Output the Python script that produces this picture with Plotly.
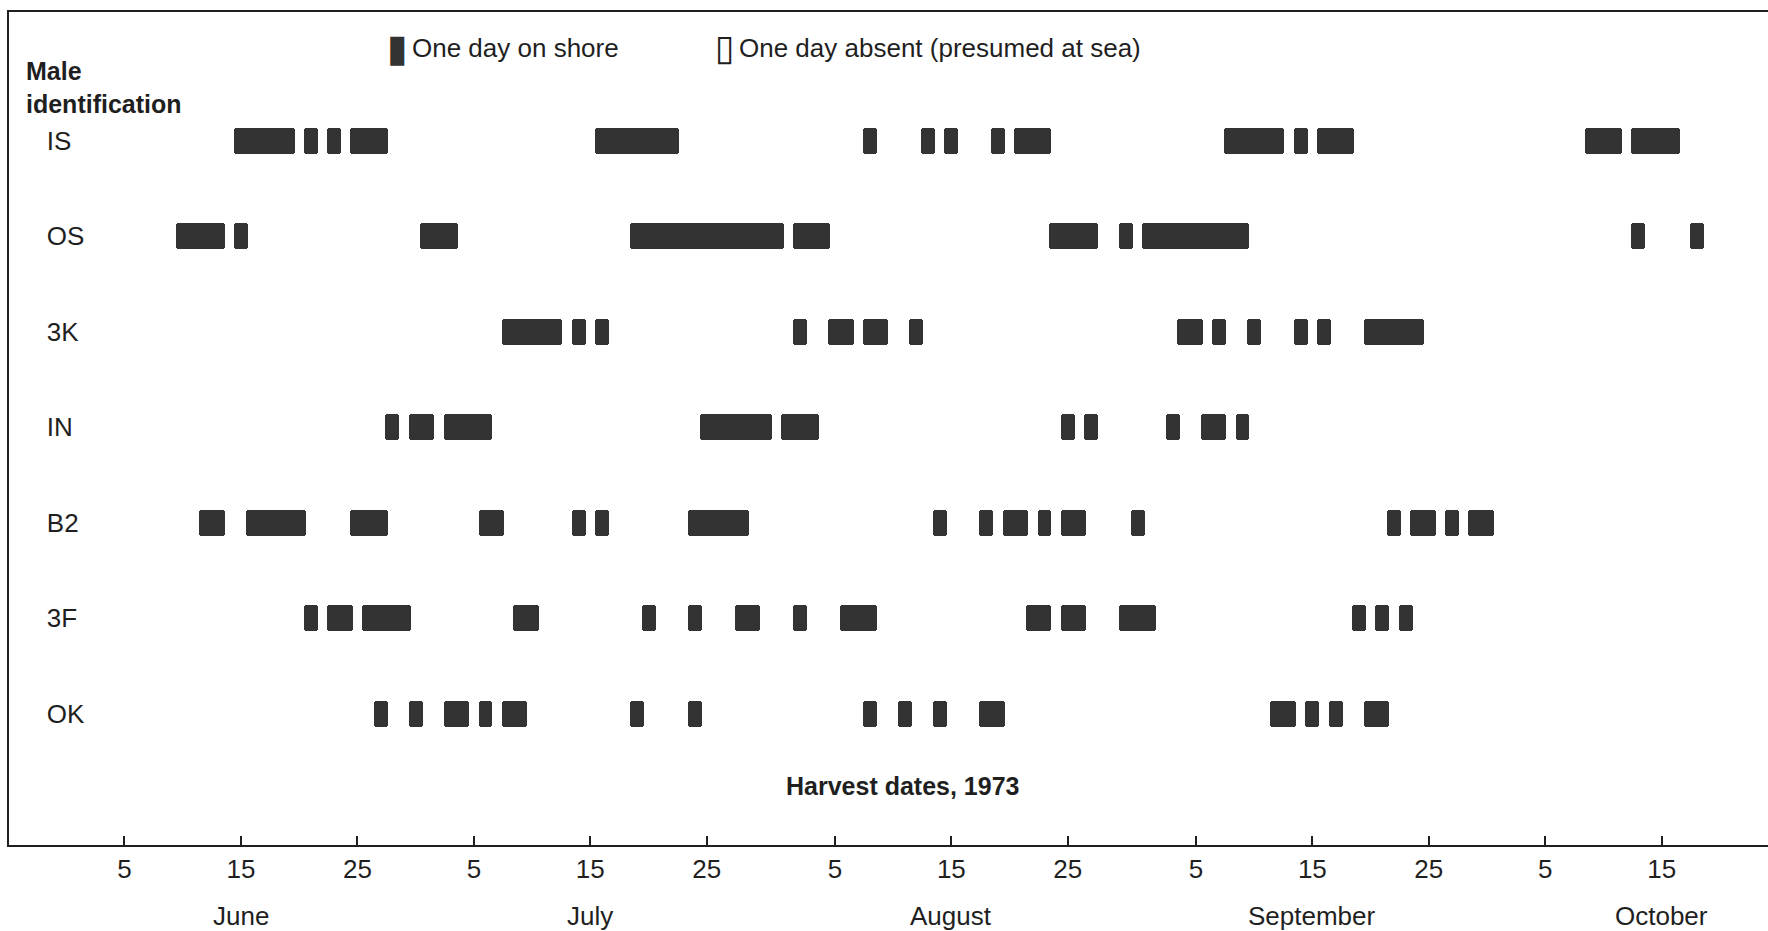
import pandas as pd
import plotly.graph_objects as go

# ---------------- data ----------------
males = ["IS", "OS", "3K", "IN", "B2", "3F", "OK"]

# stays on shore: (first day, last day) of each run of consecutive days, 1973
IS_stays = [("06-15", "06-19"), ("06-21", "06-21"), ("06-23", "06-23"), ("06-25", "06-27"),
            ("07-16", "07-22"), ("08-08", "08-08"), ("08-13", "08-13"), ("08-15", "08-15"),
            ("08-19", "08-19"), ("08-21", "08-23"), ("09-08", "09-12"), ("09-14", "09-14"),
            ("09-16", "09-18"), ("10-09", "10-11"), ("10-13", "10-16")]
OS_stays = [("06-10", "06-13"), ("06-15", "06-15"), ("07-01", "07-03"), ("07-19", "07-31"),
            ("08-02", "08-04"), ("08-24", "08-27"), ("08-30", "08-30"), ("09-01", "09-09"),
            ("10-13", "10-13"), ("10-18", "10-18")]
K3_stays = [("07-08", "07-12"), ("07-14", "07-14"), ("07-16", "07-16"), ("08-02", "08-02"),
            ("08-05", "08-06"), ("08-08", "08-09"), ("08-12", "08-12"), ("09-04", "09-05"),
            ("09-07", "09-07"), ("09-10", "09-10"), ("09-14", "09-14"), ("09-16", "09-16"),
            ("09-20", "09-24")]
IN_stays = [("06-28", "06-28"), ("06-30", "07-01"), ("07-03", "07-06"), ("07-25", "07-30"),
            ("08-01", "08-03"), ("08-25", "08-25"), ("08-27", "08-27"), ("09-03", "09-03"),
            ("09-06", "09-07"), ("09-09", "09-09")]
B2_stays = [("06-12", "06-13"), ("06-16", "06-20"), ("06-25", "06-27"), ("07-06", "07-07"),
            ("07-14", "07-14"), ("07-16", "07-16"), ("07-24", "07-28"), ("08-14", "08-14"),
            ("08-18", "08-18"), ("08-20", "08-21"), ("08-23", "08-23"), ("08-25", "08-26"),
            ("08-31", "08-31"), ("09-22", "09-22"), ("09-24", "09-25"), ("09-27", "09-27"),
            ("09-29", "09-30")]
F3_stays = [("06-21", "06-21"), ("06-23", "06-24"), ("06-26", "06-29"), ("07-09", "07-10"),
            ("07-20", "07-20"), ("07-24", "07-24"), ("07-28", "07-29"), ("08-02", "08-02"),
            ("08-06", "08-08"), ("08-22", "08-23"), ("08-25", "08-26"), ("08-30", "09-01"),
            ("09-19", "09-19"), ("09-21", "09-21"), ("09-23", "09-23")]
OK_stays = [("06-27", "06-27"), ("06-30", "06-30"), ("07-03", "07-04"), ("07-06", "07-06"),
            ("07-08", "07-09"), ("07-19", "07-19"), ("07-24", "07-24"), ("08-08", "08-08"),
            ("08-11", "08-11"), ("08-14", "08-14"), ("08-18", "08-19"), ("09-12", "09-13"),
            ("09-15", "09-15"), ("09-17", "09-17"), ("09-20", "09-21")]

YEAR = 1973
tick_dates = ["06-05", "06-15", "06-25", "07-05", "07-15", "07-25", "08-05", "08-15",
              "08-25", "09-05", "09-15", "09-25", "10-05", "10-15"]
tick_labels = ["5", "15", "25", "5", "15", "25", "5", "15", "25", "5", "15", "25", "5", "15"]
month_names = ["June", "July", "August", "September", "October"]
month_label_dates = ["06-15", "07-15", "08-15", "09-15", "10-15"]

stays_by_male = {"IS": IS_stays, "OS": OS_stays, "3K": K3_stays, "IN": IN_stays,
                 "B2": B2_stays, "3F": F3_stays, "OK": OK_stays}

# ---------------- figure ----------------
FONT = "Liberation Sans, Arial, Helvetica, sans-serif"
INK = "#1f1f1f"
BAR = "#333333"
DAY_MS = 86400000
PAD = 0.6  # a day's glyph reaches a little past its own day


def d(md):
    return pd.Timestamp(f"{YEAR}-{md}")


ys, bases, lengths = [], [], []
for m in males:
    for a, b in stays_by_male[m]:
        ta, tb = d(a), d(b)
        start = ta - pd.Timedelta(days=PAD)
        ys.append(m)
        bases.append(start.strftime("%Y-%m-%d %H:%M:%S"))
        lengths.append(((tb - ta).days + 2 * PAD) * DAY_MS)

fig = go.Figure()
fig.add_trace(go.Bar(
    y=ys, x=lengths, base=bases, orientation="h", width=0.27,
    marker=dict(color=BAR, line=dict(width=0), cornerradius=3),
    showlegend=False, hoverinfo="skip",
))

L, R, T, B = 9, 0, 12, 86
W, H = 1768, 931
plot_h = H - T - B


def ypix(p):
    return (H - B - p) / plot_h


def xpix(p):
    return (p - L) / (W - L - R)


annotations = []
for name, md in zip(month_names, month_label_dates):
    annotations.append(dict(x=f"{YEAR}-{md}", xref="x", y=ypix(916), yref="paper",
                            text=name, showarrow=False, xanchor="center", yanchor="middle",
                            font=dict(family=FONT, size=26, color=INK)))

annotations += [
    dict(x=xpix(24), y=ypix(88), xref="paper", yref="paper", xanchor="left", yanchor="middle",
         align="left", text="<b>Male<br>identification</b>", showarrow=False,
         font=dict(family=FONT, size=25, color=INK)),
    dict(x=xpix(902), y=ypix(786), xref="paper", yref="paper", xanchor="center", yanchor="middle",
         text="<b>Harvest dates, 1973</b>", showarrow=False,
         font=dict(family=FONT, size=25, color=INK)),
    dict(x=xpix(397), y=ypix(48), xref="paper", yref="paper", xanchor="center", yanchor="middle",
         text="▮", showarrow=False, font=dict(family="DejaVu Sans", size=38, color=BAR)),
    dict(x=xpix(410), y=ypix(48), xref="paper", yref="paper", xanchor="left", yanchor="middle",
         text="One day on shore", showarrow=False, font=dict(family=FONT, size=26, color=INK)),
    dict(x=xpix(725), y=ypix(48), xref="paper", yref="paper", xanchor="center", yanchor="middle",
         text="<b>▯</b>", showarrow=False, font=dict(family="DejaVu Sans", size=36, color=INK)),
    dict(x=xpix(737), y=ypix(48), xref="paper", yref="paper", xanchor="left", yanchor="middle",
         text="One day absent (presumed at sea)", showarrow=False,
         font=dict(family=FONT, size=26, color=INK)),
]

fig.update_layout(
    width=W, height=H,
    margin=dict(l=L, r=R, t=T, b=B, pad=0),
    paper_bgcolor="white", plot_bgcolor="white",
    font=dict(family=FONT, size=26, color=INK),
    bargap=0,
    annotations=annotations,
    xaxis=dict(
        type="date",
        range=["1973-05-26 02:00", "1973-10-24 03:00"],
        tickvals=[f"{YEAR}-{t}" for t in tick_dates],
        ticktext=tick_labels,
        ticks="inside", ticklen=9, tickwidth=2, tickcolor=INK,
        showline=True, linewidth=2, linecolor=INK, mirror=True,
        showgrid=False, zeroline=False,
        tickfont=dict(family=FONT, size=26, color=INK),
    ),
    yaxis=dict(
        type="category",
        categoryorder="array", categoryarray=males,
        range=[7.374, -1.349],
        showline=True, linewidth=2, linecolor=INK, mirror=False,
        ticks="", showgrid=False, zeroline=False,
        ticklabelposition="inside", ticklabelstandoff=40,
        tickfont=dict(family=FONT, size=26, color=INK),
    ),
)

fig.write_html("out.html")
